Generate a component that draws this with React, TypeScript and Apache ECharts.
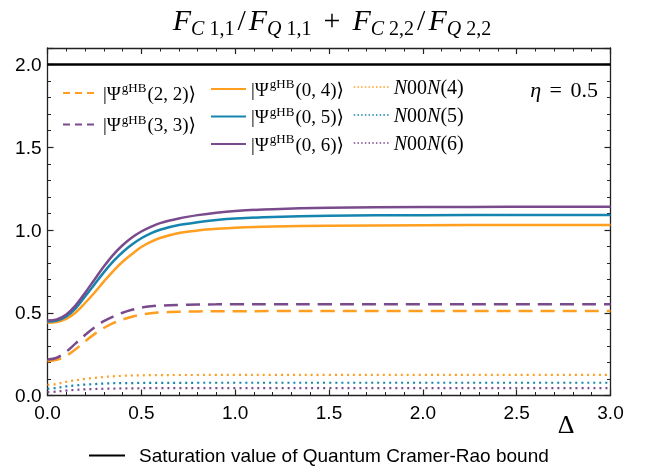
import React, { useEffect, useRef } from 'react';
import * as echarts from 'echarts';

const DELTA = [0, 0.05, 0.1, 0.15, 0.2, 0.25, 0.3, 0.35, 0.4, 0.45, 0.5, 0.55, 0.6, 0.7, 0.8, 0.9, 1.0, 1.2, 1.5, 2.0, 2.5, 3.0];

const PSI22 = [0.207, 0.215, 0.24, 0.28, 0.327, 0.371, 0.408, 0.437, 0.459, 0.476, 0.489, 0.497, 0.502, 0.506, 0.508, 0.509, 0.509, 0.51, 0.51, 0.51, 0.51, 0.51];
const PSI33 = [0.217, 0.228, 0.265, 0.315, 0.366, 0.411, 0.449, 0.477, 0.5, 0.518, 0.531, 0.539, 0.543, 0.547, 0.55, 0.551, 0.552, 0.552, 0.552, 0.552, 0.552, 0.552];
const PSI04 = [0.439, 0.444, 0.463, 0.502, 0.559, 0.621, 0.688, 0.752, 0.808, 0.855, 0.897, 0.928, 0.952, 0.982, 0.997, 1.007, 1.014, 1.021, 1.026, 1.029, 1.03, 1.03];
const PSI05 = [0.447, 0.453, 0.478, 0.527, 0.598, 0.671, 0.744, 0.81, 0.866, 0.912, 0.95, 0.98, 1.002, 1.03, 1.047, 1.06, 1.069, 1.079, 1.086, 1.09, 1.091, 1.091];
const PSI06 = [0.453, 0.46, 0.49, 0.545, 0.62, 0.7, 0.779, 0.85, 0.908, 0.955, 0.991, 1.019, 1.042, 1.07, 1.09, 1.105, 1.115, 1.126, 1.134, 1.139, 1.14, 1.14];
const N00N4 = [0.064, 0.07, 0.083, 0.092, 0.1, 0.106, 0.112, 0.116, 0.119, 0.121, 0.122, 0.123, 0.123, 0.124, 0.124, 0.125, 0.125, 0.125, 0.125, 0.125, 0.125, 0.125];
const N00N5 = [0.04, 0.046, 0.055, 0.061, 0.066, 0.069, 0.072, 0.074, 0.075, 0.075, 0.076, 0.076, 0.076, 0.076, 0.077, 0.077, 0.077, 0.077, 0.077, 0.077, 0.077, 0.077];
const N00N6 = [0.02, 0.024, 0.03, 0.034, 0.037, 0.039, 0.041, 0.042, 0.043, 0.043, 0.044, 0.044, 0.044, 0.044, 0.044, 0.044, 0.044, 0.044, 0.044, 0.044, 0.044, 0.044];

const SAT_X = [0, 3];
const SAT_Y = [2, 2];

const SAT_NAME = 'Saturation value of Quantum Cramer-Rao bound';

const ORANGE = '#FF9E1F';
const BLUE = '#1584AE';
const PURPLE = '#7A4B8C';
const SERIF = '"Liberation Serif", "DejaVu Serif", serif';
const SANS = '"Liberation Sans", Arial, sans-serif';

const LABELS: Record<string, string> = {
  psi22: '{t||Ψ}{sup|gHB}{t|(2, 2)⟩}',
  psi33: '{t||Ψ}{sup|gHB}{t|(3, 3)⟩}',
  psi04: '{t||Ψ}{sup|gHB}{t|(0, 4)⟩}',
  psi05: '{t||Ψ}{sup|gHB}{t|(0, 5)⟩}',
  psi06: '{t||Ψ}{sup|gHB}{t|(0, 6)⟩}',
  n4: '{it2|N}{t2|00}{it2|N}{t2|(4)}',
  n5: '{it2|N}{t2|00}{it2|N}{t2|(5)}',
  n6: '{it2|N}{t2|00}{it2|N}{t2|(6)}',
};

const pairs = (xs: number[], ys: number[]) => xs.map((x, i) => [x, ys[i]]);

const mathRich = {
  t: { fontFamily: SERIF, fontSize: 19, lineHeight: 24, color: '#000' },
  it: { fontFamily: SERIF, fontSize: 19, lineHeight: 24, fontStyle: 'italic', color: '#000' },
  t2: { fontFamily: SERIF, fontSize: 20, lineHeight: 24, color: '#000' },
  it2: { fontFamily: SERIF, fontSize: 20, lineHeight: 24, fontStyle: 'italic', color: '#000' },
  sup: { fontFamily: SERIF, fontSize: 13, verticalAlign: 'top', color: '#000', padding: [0, 1, 0, 1] },
};

export default function App() {
  const ref = useRef<HTMLDivElement>(null);
  useEffect(() => {
    if (!ref.current) return;
    const chart = echarts.init(ref.current, undefined, { renderer: 'svg' });

    const axisBase = {
      type: 'value' as const,
      axisLine: { show: true, onZero: false, lineStyle: { color: '#222', width: 1.3 } },
      axisTick: { show: true, inside: true, length: 6, lineStyle: { color: '#222', width: 1.2 } },
      minorTick: { show: true, splitNumber: 5, length: 3.5, lineStyle: { color: '#222', width: 1 } },
      splitLine: { show: false },
    };

    const lineSeries = (name: string, ys: number[], color: string, type: any, width: number) => ({
      name,
      type: 'line',
      data: pairs(DELTA, ys),
      smooth: 0.35,
      symbol: 'none',
      showSymbol: false,
      color,
      lineStyle: { color, width, type },
      itemStyle: { color },
    });

    const legendBase = {
      orient: 'vertical' as const,
      padding: 0,
      itemWidth: 35,
      itemHeight: 14,
      selectedMode: false,
      itemStyle: { opacity: 0 },
      formatter: (n: string) => LABELS[n] ?? n,
      textStyle: { rich: mathRich, fontFamily: SERIF, fontSize: 19, color: '#000' },
    };

    chart.setOption({
      animation: false,
      grid: { left: 47.5, right: 39.5, top: 48, bottom: 71.5, containLabel: false },
      xAxis: [
        {
          ...axisBase,
          position: 'bottom',
          min: 0,
          max: 3,
          interval: 0.5,
          axisLabel: {
            show: true,
            margin: 7,
            color: '#000',
            fontFamily: SANS,
            fontSize: 19,
            formatter: (v: number) => v.toFixed(1),
          },
        },
        {
          ...axisBase,
          position: 'top',
          min: 0,
          max: 3,
          interval: 0.5,
          axisLabel: { show: false },
        },
      ],
      yAxis: [
        {
          ...axisBase,
          position: 'left',
          min: 0,
          max: 2.1,
          interval: 0.5,
          axisLabel: {
            show: true,
            margin: 6,
            color: '#000',
            fontFamily: SANS,
            fontSize: 19,
            showMaxLabel: false,
            formatter: (v: number) => (Math.abs(v * 2 - Math.round(v * 2)) < 1e-6 ? v.toFixed(1) : ''),
          },
        },
        {
          ...axisBase,
          position: 'right',
          min: 0,
          max: 2.1,
          interval: 0.5,
          axisLabel: { show: false },
        },
      ],
      legend: [
        { ...legendBase, left: 62, top: 81, itemGap: 10, data: ['psi22', 'psi33'], lineStyle: { type: [7, 5], width: 2 } },
        { ...legendBase, left: 210, top: 77, itemGap: 6, data: ['psi04', 'psi05', 'psi06'] },
        { ...legendBase, left: 353, top: 77, itemGap: 8, data: ['n4', 'n5', 'n6'], lineStyle: { type: [1.5, 2.2], width: 1.5 } },
        {
          orient: 'horizontal',
          padding: 0,
          left: 88,
          top: 446,
          itemWidth: 36,
          itemHeight: 14,
          selectedMode: false,
          itemStyle: { opacity: 0 },
          data: [SAT_NAME],
          textStyle: { fontFamily: SANS, fontSize: 19, color: '#000', padding: [0, 0, 0, 9] },
        },
      ],
      graphic: [
        {
          type: 'text',
          x: 332,
          y: 19,
          style: {
            text: '{F|F}{si|C}{sn| 1,1}{sl|/}{F|F}{si|Q}{sn| 1,1}{op|+}{F|F}{si|C}{sn| 2,2}{sl|/}{F|F}{si|Q}{sn| 2,2}',
            align: 'center',
            verticalAlign: 'middle',
            fill: '#000',
            rich: {
              F: { fontFamily: SERIF, fontSize: 30, fontStyle: 'italic', lineHeight: 38, fill: '#000' },
              sl: { fontFamily: SERIF, fontSize: 30, lineHeight: 38, fill: '#000', padding: [0, 3, 0, 3] },
              op: { fontFamily: SERIF, fontSize: 30, lineHeight: 38, fill: '#000', padding: [0, 12, 0, 12] },
              si: { fontFamily: SERIF, fontSize: 20, fontStyle: 'italic', verticalAlign: 'bottom', fill: '#000' },
              sn: { fontFamily: SERIF, fontSize: 20, verticalAlign: 'bottom', fill: '#000' },
            },
          },
        },
        {
          type: 'text',
          x: 598,
          y: 89,
          style: {
            text: '{it|η}{t| }{eq|=}{t| 0.5}',
            align: 'right',
            verticalAlign: 'middle',
            fill: '#000',
            rich: {
              it: { fontFamily: SERIF, fontSize: 22, fontStyle: 'italic', fill: '#000' },
              t: { fontFamily: SERIF, fontSize: 22, fill: '#000' },
              eq: { fontFamily: SERIF, fontSize: 22, fill: '#000', padding: [0, 3, 0, 3] },
            },
          },
        },
        {
          type: 'text',
          x: 566,
          y: 424,
          style: {
            text: 'Δ',
            align: 'center',
            verticalAlign: 'middle',
            fill: '#000',
            fontFamily: SERIF,
            fontSize: 26,
          },
        },
      ],
      series: [
        {
          name: SAT_NAME,
          type: 'line',
          data: pairs(SAT_X, SAT_Y),
          symbol: 'none',
          showSymbol: false,
          color: '#000',
          lineStyle: { color: '#000', width: 2.5 },
          itemStyle: { color: '#000' },
        },
        lineSeries('n4', N00N4, ORANGE, [2, 4], 2.2),
        lineSeries('n5', N00N5, BLUE, [2, 4], 2.2),
        lineSeries('n6', N00N6, PURPLE, [2, 4], 2.2),
        lineSeries('psi22', PSI22, ORANGE, [14, 8], 2.5),
        lineSeries('psi33', PSI33, PURPLE, [14, 8], 2.5),
        lineSeries('psi04', PSI04, ORANGE, 'solid', 2.5),
        lineSeries('psi05', PSI05, BLUE, 'solid', 2.5),
        lineSeries('psi06', PSI06, PURPLE, 'solid', 2.5),
      ],
    });
    return () => chart.dispose();
  }, []);
  return <div ref={ref} style={{ position: 'fixed', left: 0, top: 0, width: 650, height: 467 }} />;
}
